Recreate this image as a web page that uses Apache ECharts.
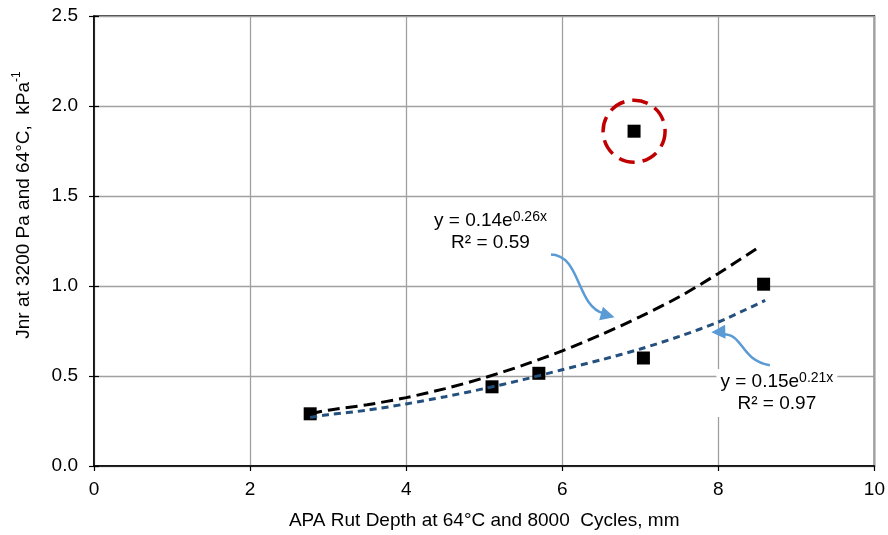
<!DOCTYPE html>
<html><head><meta charset="utf-8">
<script src="https://cdn.jsdelivr.net/npm/echarts@6/dist/echarts.min.js"></script>
<style>html,body{margin:0;padding:0;background:#fff}#c{width:888px;height:535px}</style>
</head><body><div id="c"></div>
<script>
// ---- data ----
const rutDepth = [2.77, 5.10, 5.70, 6.92, 7.04, 8.58];
const jnr      = [0.29, 0.44, 0.515, 1.86, 0.60, 1.01];
const outlierX = [6.92];
const outlierY = [1.86];

// exponential trendline, all points: y = 0.14e^0.26x, R² = 0.59
const fitAllX = [2.77, 3.0, 3.5, 4.0, 4.5, 5.0, 5.5, 6.0, 6.5, 7.0, 7.5, 8.0, 8.5];
const fitAllY = [0.29, 0.31, 0.34, 0.38, 0.43, 0.49, 0.56, 0.64, 0.73, 0.83, 0.94, 1.07, 1.21];
// exponential trendline, without outlier: y = 0.15e^0.21x, R² = 0.97
const fitExX = [2.77, 3.0, 3.5, 4.0, 4.5, 5.0, 5.5, 6.0, 6.5, 7.0, 7.5, 8.0, 8.6];
const fitExY = [0.27, 0.285, 0.31, 0.345, 0.385, 0.43, 0.48, 0.535, 0.59, 0.65, 0.72, 0.80, 0.92];

const xTicks = [0, 2, 4, 6, 8, 10];
const yTicks = [0.0, 0.5, 1.0, 1.5, 2.0, 2.5];

const xTitle = 'APA Rut Depth at 64°C and 8000  Cycles, mm';
const yTitle = 'Jnr at 3200 Pa and 64°C,  kPa{sup|-1}';
const label1 = 'y = 0.14e{sup|0.26x}\nR² = 0.59';
const label2 = 'y = 0.15e{sup|0.21x}\nR² = 0.97';
// annotation anchors (data units)
const label1Pos = [5.08, 1.30];
const label2Pos = [8.75, 0.405];
const arrow1 = {from: [5.85, 1.175], to: [6.67, 0.826]};
const arrow2 = {from: [8.66, 0.56], to: [7.91, 0.743]};

const FONT = '"Liberation Sans", Arial, sans-serif';
const pts = rutDepth.map((x, i) => [x, jnr[i]]);
const fitAll = fitAllX.map((x, i) => [x, fitAllY[i]]);
const fitEx = fitExX.map((x, i) => [x, fitExY[i]]);
const outl = outlierX.map((x, i) => [x, outlierY[i]]);

const chart = echarts.init(document.getElementById('c'));
const option = {
  animation: false,
  backgroundColor: '#fff',
  grid: {left: 94, right: 13, top: 16, bottom: 68, show: true, borderColor: '#000', borderWidth: 1.5, backgroundColor: 'transparent'},
  xAxis: {
    type: 'value', min: xTicks[0], max: xTicks[xTicks.length - 1], interval: 2,
    name: xTitle, nameLocation: 'middle', nameGap: 45,
    nameTextStyle: {fontFamily: FONT, fontSize: 19, color: '#000'},
    axisLine: {show: true, onZero: false, lineStyle: {color: '#000', width: 1.5}},
    axisTick: {show: true, length: 5, lineStyle: {color: '#000', width: 1.2}},
    axisLabel: {fontFamily: FONT, fontSize: 19, color: '#000', margin: 14},
    splitLine: {show: true, lineStyle: {color: '#a0a0a0', width: 1.3}}
  },
  yAxis: [{
    type: 'value', min: yTicks[0], max: yTicks[yTicks.length - 1], interval: 0.5,
    name: yTitle, nameLocation: 'middle', nameGap: 58, nameRotate: 90,
    nameTextStyle: {fontFamily: FONT, fontSize: 19, color: '#000', padding: [0, 0, 0, 72],
      rich: {sup: {fontFamily: FONT, fontSize: 12, verticalAlign: 'top', lineHeight: 25, color: '#000'}}},
    axisLine: {show: true, onZero: false, lineStyle: {color: '#000', width: 1.5}},
    axisTick: {show: true, length: 5, lineStyle: {color: '#000', width: 1.2}},
    axisLabel: {fontFamily: FONT, fontSize: 19, color: '#000', margin: 16, formatter: v => v.toFixed(1)},
    splitLine: {show: true, lineStyle: {color: '#a0a0a0', width: 1.3}}
  }, {
    type: 'value', min: yTicks[0], max: yTicks[yTicks.length - 1], interval: 0.5, position: 'left',
    axisLine: {show: false}, axisLabel: {show: false}, splitLine: {show: false},
    axisTick: {show: true, inside: true, length: 5, lineStyle: {color: '#000', width: 1.2}}
  }],
  series: [
    {type: 'scatter', data: pts, symbol: 'rect', symbolSize: 13, itemStyle: {color: '#000', opacity: 1}, z: 2},
    {type: 'scatter', data: outl, symbol: 'circle', symbolSize: 62,
      itemStyle: {color: 'rgba(0,0,0,0)', opacity: 1, borderColor: '#c00000', borderWidth: 3.5, borderType: [16, 8]}, z: 2, silent: true},
    {type: 'line', data: fitAll, smooth: 0.3, showSymbol: false, z: 4,
      lineStyle: {color: '#000', width: 3, type: [12, 6]}},
    {type: 'line', data: fitEx, smooth: 0.3, showSymbol: false, z: 4,
      lineStyle: {color: '#24507d', width: 3, type: [7, 5]}}
  ]
};
chart.setOption(option);

function px(p) { return chart.convertToPixel({xAxisIndex: 0, yAxisIndex: 0}, p); }
const ARROW = '#5b9bd5';
function arrowHead(tip, from, len, half) {
  const dx = tip[0] - from[0], dy = tip[1] - from[1];
  const L = Math.hypot(dx, dy) || 1;
  const ux = dx / L, uy = dy / L;
  const bx = tip[0] - ux * len, by = tip[1] - uy * len;
  return [tip, [bx - uy * half, by + ux * half], [bx + uy * half, by - ux * half]];
}
const a1s = px(arrow1.from), a1t = px(arrow1.to);
const a1c1 = [a1s[0] + 30, a1s[1]];
const a1c2 = [a1s[0] + 26, a1s[1] + 52];
const a1e = [a1t[0] - 11, a1t[1] - 4];
const a2s = px(arrow2.from), a2t = px(arrow2.to);
const a2c1 = [a2s[0] - 30, a2s[1] - 5];
const a2c2 = [a2s[0] - 26, a2s[1] - 32];
const a2e = [a2t[0] + 11, a2t[1] + 2];
const l1 = px(label1Pos), l2 = px(label2Pos);
const richT = {sup: {fontFamily: FONT, fontSize: 14, verticalAlign: 'top', lineHeight: 22, fill: '#000'}};
chart.setOption({
  graphic: [
    {type: 'bezierCurve', z: 10, shape: {x1: a1s[0], y1: a1s[1], cpx1: a1c1[0], cpy1: a1c1[1], cpx2: a1c2[0], cpy2: a1c2[1], x2: a1e[0], y2: a1e[1]},
      style: {stroke: ARROW, lineWidth: 2.5, fill: null}},
    {type: 'polygon', z: 10, shape: {points: arrowHead(a1t, [a1c2[0] + 6, a1c2[1] + 2], 14, 7)}, style: {fill: ARROW}},
    {type: 'bezierCurve', z: 10, shape: {x1: a2s[0], y1: a2s[1], cpx1: a2c1[0], cpy1: a2c1[1], cpx2: a2c2[0], cpy2: a2c2[1], x2: a2e[0], y2: a2e[1]},
      style: {stroke: ARROW, lineWidth: 2.5, fill: null}},
    {type: 'polygon', z: 10, shape: {points: arrowHead(a2t, [a2c2[0], a2c2[1] - 2], 14, 7)}, style: {fill: ARROW}},
    {type: 'text', z: 11, x: l1[0], y: l1[1], style: {text: label1, align: 'center', verticalAlign: 'middle',
      fontFamily: FONT, fontSize: 19, lineHeight: 22, fill: '#000', backgroundColor: '#fff', padding: [2, 4], rich: richT}},
    {type: 'text', z: 11, x: l2[0], y: l2[1], style: {text: label2, align: 'center', verticalAlign: 'middle',
      fontFamily: FONT, fontSize: 19, lineHeight: 22, fill: '#000', backgroundColor: '#fff', padding: [2, 4], rich: richT}}
  ]
});
</script>
</body></html>
